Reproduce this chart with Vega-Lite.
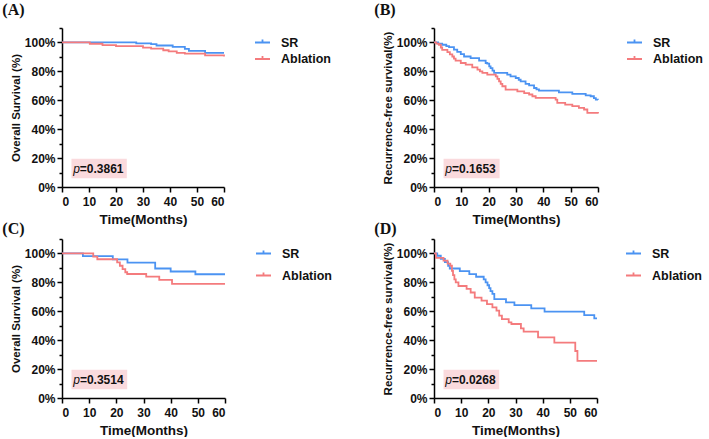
{
  "$schema": "https://vega.github.io/schema/vega-lite/v6.json",
  "padding": {"left": 2, "top": 1, "right": 0, "bottom": 0},
  "background": "white",
  "columns": 2,
  "spacing": {"row": -5, "column": 36},
  "resolve": {"scale": {"color": "independent"}},
  "config": {
    "view": {"stroke": null},
    "font": "Liberation Sans",
    "axis": {"grid": false, "domainColor": "#000", "domainWidth": 1.5, "tickColor": "#000", "tickWidth": 1.5, "labelFont": "Liberation Sans", "labelFontWeight": "bold", "labelFontSize": 12, "labelColor": "#111", "titleFont": "Liberation Sans", "titleFontWeight": "bold", "titleColor": "#111"},
    "axisX": {"titleFontSize": 13.5, "labelPadding": 4, "titlePadding": 5},
    "axisY": {"titleFontSize": 11.5, "labelPadding": 2, "titlePadding": 3},
    "legend": {"orient": "right", "offset": 20, "padding": 6, "labelFont": "Liberation Sans", "labelFontSize": 12.5, "labelFontWeight": "bold", "labelColor": "#111", "symbolType": "M-1,0H1M0,0V-0.4", "symbolSize": 225, "symbolStrokeWidth": 1.8, "labelOffset": 10, "rowPadding": 1.5},
    "title": {"font": "Liberation Serif", "fontSize": 16, "fontWeight": "bold", "color": "#111", "anchor": "start", "frame": "bounds", "dx": -8}
  },
  "datasets": {
    "km": [
      {"panel": "A", "group": "SR", "time": 0, "surv": 100},
      {"panel": "A", "group": "SR", "time": 27.5, "surv": 99.4},
      {"panel": "A", "group": "SR", "time": 33, "surv": 98.8},
      {"panel": "A", "group": "SR", "time": 35, "surv": 97.9},
      {"panel": "A", "group": "SR", "time": 41, "surv": 97},
      {"panel": "A", "group": "SR", "time": 45.5, "surv": 95.5},
      {"panel": "A", "group": "SR", "time": 47, "surv": 94.2},
      {"panel": "A", "group": "SR", "time": 53, "surv": 92.8},
      {"panel": "A", "group": "SR", "time": 60, "surv": 92.8},
      {"panel": "A", "group": "Ablation", "time": 0, "surv": 100},
      {"panel": "A", "group": "Ablation", "time": 10.3, "surv": 99.1},
      {"panel": "A", "group": "Ablation", "time": 15, "surv": 98.2},
      {"panel": "A", "group": "Ablation", "time": 20, "surv": 97.4},
      {"panel": "A", "group": "Ablation", "time": 30, "surv": 96.4},
      {"panel": "A", "group": "Ablation", "time": 33, "surv": 95.8},
      {"panel": "A", "group": "Ablation", "time": 37.5, "surv": 94.6},
      {"panel": "A", "group": "Ablation", "time": 39.5, "surv": 93.8},
      {"panel": "A", "group": "Ablation", "time": 42.5, "surv": 92.8},
      {"panel": "A", "group": "Ablation", "time": 45.5, "surv": 92.3},
      {"panel": "A", "group": "Ablation", "time": 53, "surv": 91.1},
      {"panel": "A", "group": "Ablation", "time": 60, "surv": 90.3},
      {"panel": "B", "group": "SR", "time": 0, "surv": 100},
      {"panel": "B", "group": "SR", "time": 1.5, "surv": 99.2},
      {"panel": "B", "group": "SR", "time": 3, "surv": 98.4},
      {"panel": "B", "group": "SR", "time": 4.5, "surv": 97.5},
      {"panel": "B", "group": "SR", "time": 5.5, "surv": 96.8},
      {"panel": "B", "group": "SR", "time": 7.3, "surv": 95},
      {"panel": "B", "group": "SR", "time": 8.5, "surv": 93.5},
      {"panel": "B", "group": "SR", "time": 9.8, "surv": 91.9},
      {"panel": "B", "group": "SR", "time": 11, "surv": 90.3},
      {"panel": "B", "group": "SR", "time": 13.4, "surv": 89.2},
      {"panel": "B", "group": "SR", "time": 16.5, "surv": 87.4},
      {"panel": "B", "group": "SR", "time": 18.9, "surv": 85.8},
      {"panel": "B", "group": "SR", "time": 19.5, "surv": 85.3},
      {"panel": "B", "group": "SR", "time": 20.2, "surv": 83.5},
      {"panel": "B", "group": "SR", "time": 20.7, "surv": 82.3},
      {"panel": "B", "group": "SR", "time": 21.4, "surv": 80.5},
      {"panel": "B", "group": "SR", "time": 22, "surv": 78.9},
      {"panel": "B", "group": "SR", "time": 26.8, "surv": 77.7},
      {"panel": "B", "group": "SR", "time": 28, "surv": 76.6},
      {"panel": "B", "group": "SR", "time": 29.9, "surv": 75.4},
      {"panel": "B", "group": "SR", "time": 31, "surv": 74.2},
      {"panel": "B", "group": "SR", "time": 31.7, "surv": 73.1},
      {"panel": "B", "group": "SR", "time": 33.5, "surv": 71.3},
      {"panel": "B", "group": "SR", "time": 34.8, "surv": 70.3},
      {"panel": "B", "group": "SR", "time": 36.6, "surv": 68.5},
      {"panel": "B", "group": "SR", "time": 37.5, "surv": 67.6},
      {"panel": "B", "group": "SR", "time": 38.4, "surv": 66.7},
      {"panel": "B", "group": "SR", "time": 45.7, "surv": 65.5},
      {"panel": "B", "group": "SR", "time": 50.6, "surv": 64.4},
      {"panel": "B", "group": "SR", "time": 55.5, "surv": 63.4},
      {"panel": "B", "group": "SR", "time": 57.3, "surv": 62.8},
      {"panel": "B", "group": "SR", "time": 58.5, "surv": 61.5},
      {"panel": "B", "group": "SR", "time": 59.2, "surv": 60.5},
      {"panel": "B", "group": "SR", "time": 60, "surv": 60.3},
      {"panel": "B", "group": "Ablation", "time": 0, "surv": 100},
      {"panel": "B", "group": "Ablation", "time": 0.8, "surv": 99.2},
      {"panel": "B", "group": "Ablation", "time": 1.8, "surv": 98.4},
      {"panel": "B", "group": "Ablation", "time": 2.5, "surv": 96.5},
      {"panel": "B", "group": "Ablation", "time": 3, "surv": 94.9},
      {"panel": "B", "group": "Ablation", "time": 4.9, "surv": 93.3},
      {"panel": "B", "group": "Ablation", "time": 5.8, "surv": 91.8},
      {"panel": "B", "group": "Ablation", "time": 6.7, "surv": 90.3},
      {"panel": "B", "group": "Ablation", "time": 7.3, "surv": 88.8},
      {"panel": "B", "group": "Ablation", "time": 7.9, "surv": 87.4},
      {"panel": "B", "group": "Ablation", "time": 9.8, "surv": 85.8},
      {"panel": "B", "group": "Ablation", "time": 11.6, "surv": 84.6},
      {"panel": "B", "group": "Ablation", "time": 14, "surv": 82.8},
      {"panel": "B", "group": "Ablation", "time": 15.9, "surv": 81.2},
      {"panel": "B", "group": "Ablation", "time": 16.8, "surv": 80},
      {"panel": "B", "group": "Ablation", "time": 17.7, "surv": 78.9},
      {"panel": "B", "group": "Ablation", "time": 19.5, "surv": 77.7},
      {"panel": "B", "group": "Ablation", "time": 22.6, "surv": 76.6},
      {"panel": "B", "group": "Ablation", "time": 23.2, "surv": 74.8},
      {"panel": "B", "group": "Ablation", "time": 23.8, "surv": 73.1},
      {"panel": "B", "group": "Ablation", "time": 24.4, "surv": 71.4},
      {"panel": "B", "group": "Ablation", "time": 25, "surv": 69.7},
      {"panel": "B", "group": "Ablation", "time": 26.2, "surv": 67.4},
      {"panel": "B", "group": "Ablation", "time": 30.5, "surv": 66.2},
      {"panel": "B", "group": "Ablation", "time": 33, "surv": 65},
      {"panel": "B", "group": "Ablation", "time": 34.8, "surv": 64},
      {"panel": "B", "group": "Ablation", "time": 36, "surv": 62.8},
      {"panel": "B", "group": "Ablation", "time": 37.2, "surv": 61.6},
      {"panel": "B", "group": "Ablation", "time": 44.5, "surv": 60.5},
      {"panel": "B", "group": "Ablation", "time": 45.1, "surv": 58.2},
      {"panel": "B", "group": "Ablation", "time": 48, "surv": 57},
      {"panel": "B", "group": "Ablation", "time": 50.6, "surv": 55.9},
      {"panel": "B", "group": "Ablation", "time": 53, "surv": 54.7},
      {"panel": "B", "group": "Ablation", "time": 54.9, "surv": 53.6},
      {"panel": "B", "group": "Ablation", "time": 56.1, "surv": 51.3},
      {"panel": "B", "group": "Ablation", "time": 60, "surv": 50.8},
      {"panel": "C", "group": "SR", "time": 0, "surv": 100},
      {"panel": "C", "group": "SR", "time": 7.7, "surv": 98.1},
      {"panel": "C", "group": "SR", "time": 18.7, "surv": 95.9},
      {"panel": "C", "group": "SR", "time": 24.1, "surv": 93.7},
      {"panel": "C", "group": "SR", "time": 34.3, "surv": 89.6},
      {"panel": "C", "group": "SR", "time": 40, "surv": 87.5},
      {"panel": "C", "group": "SR", "time": 49.1, "surv": 85.6},
      {"panel": "C", "group": "SR", "time": 60, "surv": 85.6},
      {"panel": "C", "group": "Ablation", "time": 0, "surv": 100},
      {"panel": "C", "group": "Ablation", "time": 11.5, "surv": 97.8},
      {"panel": "C", "group": "Ablation", "time": 13, "surv": 96},
      {"panel": "C", "group": "Ablation", "time": 20.3, "surv": 93.8},
      {"panel": "C", "group": "Ablation", "time": 21.3, "surv": 91.5},
      {"panel": "C", "group": "Ablation", "time": 22.3, "surv": 89.2},
      {"panel": "C", "group": "Ablation", "time": 23.3, "surv": 87},
      {"panel": "C", "group": "Ablation", "time": 24, "surv": 85.8},
      {"panel": "C", "group": "Ablation", "time": 31, "surv": 84},
      {"panel": "C", "group": "Ablation", "time": 35.8, "surv": 81.7},
      {"panel": "C", "group": "Ablation", "time": 40.5, "surv": 79},
      {"panel": "C", "group": "Ablation", "time": 60, "surv": 79},
      {"panel": "D", "group": "SR", "time": 0, "surv": 100},
      {"panel": "D", "group": "SR", "time": 1.2, "surv": 98.4},
      {"panel": "D", "group": "SR", "time": 2.5, "surv": 96.2},
      {"panel": "D", "group": "SR", "time": 4, "surv": 94},
      {"panel": "D", "group": "SR", "time": 5.2, "surv": 91.5},
      {"panel": "D", "group": "SR", "time": 5.8, "surv": 89.6},
      {"panel": "D", "group": "SR", "time": 9.5, "surv": 87.8},
      {"panel": "D", "group": "SR", "time": 13, "surv": 85.7},
      {"panel": "D", "group": "SR", "time": 15.5, "surv": 83.9},
      {"panel": "D", "group": "SR", "time": 18.3, "surv": 82},
      {"panel": "D", "group": "SR", "time": 19, "surv": 80},
      {"panel": "D", "group": "SR", "time": 19.7, "surv": 78},
      {"panel": "D", "group": "SR", "time": 20.3, "surv": 76},
      {"panel": "D", "group": "SR", "time": 20.8, "surv": 74},
      {"panel": "D", "group": "SR", "time": 21.5, "surv": 72},
      {"panel": "D", "group": "SR", "time": 22.2, "surv": 68.4},
      {"panel": "D", "group": "SR", "time": 26.5, "surv": 66.2},
      {"panel": "D", "group": "SR", "time": 29.6, "surv": 64.3},
      {"panel": "D", "group": "SR", "time": 35.8, "surv": 62},
      {"panel": "D", "group": "SR", "time": 40.7, "surv": 59.7},
      {"panel": "D", "group": "SR", "time": 55.3, "surv": 57.4},
      {"panel": "D", "group": "SR", "time": 59, "surv": 55.1},
      {"panel": "D", "group": "SR", "time": 60, "surv": 55.1},
      {"panel": "D", "group": "Ablation", "time": 0, "surv": 100},
      {"panel": "D", "group": "Ablation", "time": 0.7, "surv": 97},
      {"panel": "D", "group": "Ablation", "time": 3.5, "surv": 95},
      {"panel": "D", "group": "Ablation", "time": 5, "surv": 93},
      {"panel": "D", "group": "Ablation", "time": 6, "surv": 91.5},
      {"panel": "D", "group": "Ablation", "time": 6.6, "surv": 88},
      {"panel": "D", "group": "Ablation", "time": 7, "surv": 85},
      {"panel": "D", "group": "Ablation", "time": 7.5, "surv": 82},
      {"panel": "D", "group": "Ablation", "time": 8, "surv": 80},
      {"panel": "D", "group": "Ablation", "time": 9, "surv": 77.5},
      {"panel": "D", "group": "Ablation", "time": 12, "surv": 75.5},
      {"panel": "D", "group": "Ablation", "time": 13.5, "surv": 73},
      {"panel": "D", "group": "Ablation", "time": 15, "surv": 69.5},
      {"panel": "D", "group": "Ablation", "time": 17.5, "surv": 67.3},
      {"panel": "D", "group": "Ablation", "time": 19.5, "surv": 65},
      {"panel": "D", "group": "Ablation", "time": 21.5, "surv": 62.7},
      {"panel": "D", "group": "Ablation", "time": 23, "surv": 60.4},
      {"panel": "D", "group": "Ablation", "time": 24, "surv": 57},
      {"panel": "D", "group": "Ablation", "time": 25, "surv": 54.6},
      {"panel": "D", "group": "Ablation", "time": 27.5, "surv": 52.3},
      {"panel": "D", "group": "Ablation", "time": 28.5, "surv": 51.2},
      {"panel": "D", "group": "Ablation", "time": 32, "surv": 48.2},
      {"panel": "D", "group": "Ablation", "time": 33, "surv": 45.9},
      {"panel": "D", "group": "Ablation", "time": 38.3, "surv": 42},
      {"panel": "D", "group": "Ablation", "time": 44.3, "surv": 38.3},
      {"panel": "D", "group": "Ablation", "time": 52, "surv": 32.5},
      {"panel": "D", "group": "Ablation", "time": 52.8, "surv": 25.7},
      {"panel": "D", "group": "Ablation", "time": 60, "surv": 25.7}
    ]
  },
  "concat": [
    {
      "width": 162, "height": 159,
      "title": {"text": "(A)", "offset": 4.5},
      "layer": [
        {
          "data": {"values": [{"pval": "=0.3861"}]},
          "mark": {"type": "rect", "fill": "#fadadd"},
          "encoding": {
            "x": {"datum": 3.5, "type": "quantitative", "title": "Time(Months)", "scale": {"domain": [0, 60], "nice": false}, "axis": {"values": [0, 10, 20, 30, 40, 50, 60], "tickSize": 5, "labelOverlap": false}},
            "x2": {"datum": 24},
            "y": {"datum": 6, "type": "quantitative", "title": "Overall Survival (%)", "scale": {"domain": [0, 110], "nice": false}, "axis": {"values": [0, 10, 20, 30, 40, 50, 60, 70, 80, 90, 100, 110], "labelOverlap": false, "labelExpr": "datum.value % 20 === 0 && datum.value <= 100 ? datum.value + '%' : ''", "tickSize": {"condition": {"test": "datum.value % 20 === 0 && datum.value <= 100", "value": 5}, "value": 3}}},
            "y2": {"datum": 19.5}
          }
        },
        {
          "data": {"values": [{"pval": "=0.3861"}]},
          "mark": {"type": "text", "text": "p", "align": "right", "baseline": "middle", "fontStyle": "italic", "fontSize": 12, "color": "#111", "font": "Liberation Sans"},
          "encoding": {
            "x": {"datum": 6.6, "type": "quantitative", "title": "Time(Months)", "scale": {"domain": [0, 60], "nice": false}, "axis": {"values": [0, 10, 20, 30, 40, 50, 60], "tickSize": 5, "labelOverlap": false}},
            "y": {"datum": 12.6, "type": "quantitative", "title": "Overall Survival (%)", "scale": {"domain": [0, 110], "nice": false}, "axis": {"values": [0, 10, 20, 30, 40, 50, 60, 70, 80, 90, 100, 110], "labelOverlap": false, "labelExpr": "datum.value % 20 === 0 && datum.value <= 100 ? datum.value + '%' : ''", "tickSize": {"condition": {"test": "datum.value % 20 === 0 && datum.value <= 100", "value": 5}, "value": 3}}}
          }
        },
        {
          "data": {"values": [{"pval": "=0.3861"}]},
          "mark": {"type": "text", "align": "left", "baseline": "middle", "fontWeight": "bold", "fontSize": 12, "color": "#111", "font": "Liberation Sans"},
          "encoding": {
            "x": {"datum": 6.6, "type": "quantitative", "title": "Time(Months)", "scale": {"domain": [0, 60], "nice": false}, "axis": {"values": [0, 10, 20, 30, 40, 50, 60], "tickSize": 5, "labelOverlap": false}},
            "y": {"datum": 12.6, "type": "quantitative", "title": "Overall Survival (%)", "scale": {"domain": [0, 110], "nice": false}, "axis": {"values": [0, 10, 20, 30, 40, 50, 60, 70, 80, 90, 100, 110], "labelOverlap": false, "labelExpr": "datum.value % 20 === 0 && datum.value <= 100 ? datum.value + '%' : ''", "tickSize": {"condition": {"test": "datum.value % 20 === 0 && datum.value <= 100", "value": 5}, "value": 3}}},
            "text": {"field": "pval"}
          }
        },
        {
          "data": {"name": "km"},
          "transform": [{"filter": "datum.panel === 'A'"}],
          "mark": {"type": "line", "interpolate": "step-after", "strokeWidth": 1.8},
          "encoding": {
            "x": {"field": "time", "type": "quantitative", "title": "Time(Months)", "scale": {"domain": [0, 60], "nice": false}, "axis": {"values": [0, 10, 20, 30, 40, 50, 60], "tickSize": 5, "labelOverlap": false}},
            "y": {"field": "surv", "type": "quantitative", "title": "Overall Survival (%)", "scale": {"domain": [0, 110], "nice": false}, "axis": {"values": [0, 10, 20, 30, 40, 50, 60, 70, 80, 90, 100, 110], "labelOverlap": false, "labelExpr": "datum.value % 20 === 0 && datum.value <= 100 ? datum.value + '%' : ''", "tickSize": {"condition": {"test": "datum.value % 20 === 0 && datum.value <= 100", "value": 5}, "value": 3}}},
            "color": {"field": "group", "type": "nominal", "scale": {"domain": ["SR", "Ablation"], "range": ["#4b93f2", "#f47b7d"]}, "legend": {"title": null}}
          }
        }
      ]
    },
    {
      "width": 164, "height": 159,
      "title": {"text": "(B)", "offset": 4.5},
      "layer": [
        {
          "data": {"values": [{"pval": "=0.1653"}]},
          "mark": {"type": "rect", "fill": "#fadadd"},
          "encoding": {
            "x": {"datum": 3.5, "type": "quantitative", "title": "Time(Months)", "scale": {"domain": [0, 60], "nice": false}, "axis": {"values": [0, 10, 20, 30, 40, 50, 60], "tickSize": 5, "labelOverlap": false}},
            "x2": {"datum": 24},
            "y": {"datum": 6, "type": "quantitative", "title": "Recurrence-free survival(%)", "scale": {"domain": [0, 110], "nice": false}, "axis": {"values": [0, 10, 20, 30, 40, 50, 60, 70, 80, 90, 100, 110], "labelOverlap": false, "labelExpr": "datum.value % 20 === 0 && datum.value <= 100 ? datum.value + '%' : ''", "tickSize": {"condition": {"test": "datum.value % 20 === 0 && datum.value <= 100", "value": 5}, "value": 3}}},
            "y2": {"datum": 19.5}
          }
        },
        {
          "data": {"values": [{"pval": "=0.1653"}]},
          "mark": {"type": "text", "text": "p", "align": "right", "baseline": "middle", "fontStyle": "italic", "fontSize": 12, "color": "#111", "font": "Liberation Sans"},
          "encoding": {
            "x": {"datum": 6.6, "type": "quantitative", "title": "Time(Months)", "scale": {"domain": [0, 60], "nice": false}, "axis": {"values": [0, 10, 20, 30, 40, 50, 60], "tickSize": 5, "labelOverlap": false}},
            "y": {"datum": 12.6, "type": "quantitative", "title": "Recurrence-free survival(%)", "scale": {"domain": [0, 110], "nice": false}, "axis": {"values": [0, 10, 20, 30, 40, 50, 60, 70, 80, 90, 100, 110], "labelOverlap": false, "labelExpr": "datum.value % 20 === 0 && datum.value <= 100 ? datum.value + '%' : ''", "tickSize": {"condition": {"test": "datum.value % 20 === 0 && datum.value <= 100", "value": 5}, "value": 3}}}
          }
        },
        {
          "data": {"values": [{"pval": "=0.1653"}]},
          "mark": {"type": "text", "align": "left", "baseline": "middle", "fontWeight": "bold", "fontSize": 12, "color": "#111", "font": "Liberation Sans"},
          "encoding": {
            "x": {"datum": 6.6, "type": "quantitative", "title": "Time(Months)", "scale": {"domain": [0, 60], "nice": false}, "axis": {"values": [0, 10, 20, 30, 40, 50, 60], "tickSize": 5, "labelOverlap": false}},
            "y": {"datum": 12.6, "type": "quantitative", "title": "Recurrence-free survival(%)", "scale": {"domain": [0, 110], "nice": false}, "axis": {"values": [0, 10, 20, 30, 40, 50, 60, 70, 80, 90, 100, 110], "labelOverlap": false, "labelExpr": "datum.value % 20 === 0 && datum.value <= 100 ? datum.value + '%' : ''", "tickSize": {"condition": {"test": "datum.value % 20 === 0 && datum.value <= 100", "value": 5}, "value": 3}}},
            "text": {"field": "pval"}
          }
        },
        {
          "data": {"name": "km"},
          "transform": [{"filter": "datum.panel === 'B'"}],
          "mark": {"type": "line", "interpolate": "step-after", "strokeWidth": 1.8},
          "encoding": {
            "x": {"field": "time", "type": "quantitative", "title": "Time(Months)", "scale": {"domain": [0, 60], "nice": false}, "axis": {"values": [0, 10, 20, 30, 40, 50, 60], "tickSize": 5, "labelOverlap": false}},
            "y": {"field": "surv", "type": "quantitative", "title": "Recurrence-free survival(%)", "scale": {"domain": [0, 110], "nice": false}, "axis": {"values": [0, 10, 20, 30, 40, 50, 60, 70, 80, 90, 100, 110], "labelOverlap": false, "labelExpr": "datum.value % 20 === 0 && datum.value <= 100 ? datum.value + '%' : ''", "tickSize": {"condition": {"test": "datum.value % 20 === 0 && datum.value <= 100", "value": 5}, "value": 3}}},
            "color": {"field": "group", "type": "nominal", "scale": {"domain": ["SR", "Ablation"], "range": ["#4b93f2", "#f47b7d"]}, "legend": {"title": null, "offset": 18}}
          }
        }
      ]
    },
    {
      "width": 163, "height": 159,
      "title": {"text": "(C)", "offset": -4},
      "layer": [
        {
          "data": {"values": [{"pval": "=0.3514"}]},
          "mark": {"type": "rect", "fill": "#fadadd"},
          "encoding": {
            "x": {"datum": 3.5, "type": "quantitative", "title": "Time(Months)", "scale": {"domain": [0, 60], "nice": false}, "axis": {"values": [0, 10, 20, 30, 40, 50, 60], "tickSize": 5, "labelOverlap": false}},
            "x2": {"datum": 24},
            "y": {"datum": 6, "type": "quantitative", "title": "Overall Survival (%)", "scale": {"domain": [0, 110], "nice": false}, "axis": {"values": [0, 10, 20, 30, 40, 50, 60, 70, 80, 90, 100, 110], "labelOverlap": false, "labelExpr": "datum.value % 20 === 0 && datum.value <= 100 ? datum.value + '%' : ''", "tickSize": {"condition": {"test": "datum.value % 20 === 0 && datum.value <= 100", "value": 5}, "value": 3}}},
            "y2": {"datum": 19.5}
          }
        },
        {
          "data": {"values": [{"pval": "=0.3514"}]},
          "mark": {"type": "text", "text": "p", "align": "right", "baseline": "middle", "fontStyle": "italic", "fontSize": 12, "color": "#111", "font": "Liberation Sans"},
          "encoding": {
            "x": {"datum": 6.6, "type": "quantitative", "title": "Time(Months)", "scale": {"domain": [0, 60], "nice": false}, "axis": {"values": [0, 10, 20, 30, 40, 50, 60], "tickSize": 5, "labelOverlap": false}},
            "y": {"datum": 12.6, "type": "quantitative", "title": "Overall Survival (%)", "scale": {"domain": [0, 110], "nice": false}, "axis": {"values": [0, 10, 20, 30, 40, 50, 60, 70, 80, 90, 100, 110], "labelOverlap": false, "labelExpr": "datum.value % 20 === 0 && datum.value <= 100 ? datum.value + '%' : ''", "tickSize": {"condition": {"test": "datum.value % 20 === 0 && datum.value <= 100", "value": 5}, "value": 3}}}
          }
        },
        {
          "data": {"values": [{"pval": "=0.3514"}]},
          "mark": {"type": "text", "align": "left", "baseline": "middle", "fontWeight": "bold", "fontSize": 12, "color": "#111", "font": "Liberation Sans"},
          "encoding": {
            "x": {"datum": 6.6, "type": "quantitative", "title": "Time(Months)", "scale": {"domain": [0, 60], "nice": false}, "axis": {"values": [0, 10, 20, 30, 40, 50, 60], "tickSize": 5, "labelOverlap": false}},
            "y": {"datum": 12.6, "type": "quantitative", "title": "Overall Survival (%)", "scale": {"domain": [0, 110], "nice": false}, "axis": {"values": [0, 10, 20, 30, 40, 50, 60, 70, 80, 90, 100, 110], "labelOverlap": false, "labelExpr": "datum.value % 20 === 0 && datum.value <= 100 ? datum.value + '%' : ''", "tickSize": {"condition": {"test": "datum.value % 20 === 0 && datum.value <= 100", "value": 5}, "value": 3}}},
            "text": {"field": "pval"}
          }
        },
        {
          "data": {"name": "km"},
          "transform": [{"filter": "datum.panel === 'C'"}],
          "mark": {"type": "line", "interpolate": "step-after", "strokeWidth": 1.8},
          "encoding": {
            "x": {"field": "time", "type": "quantitative", "title": "Time(Months)", "scale": {"domain": [0, 60], "nice": false}, "axis": {"values": [0, 10, 20, 30, 40, 50, 60], "tickSize": 5, "labelOverlap": false}},
            "y": {"field": "surv", "type": "quantitative", "title": "Overall Survival (%)", "scale": {"domain": [0, 110], "nice": false}, "axis": {"values": [0, 10, 20, 30, 40, 50, 60, 70, 80, 90, 100, 110], "labelOverlap": false, "labelExpr": "datum.value % 20 === 0 && datum.value <= 100 ? datum.value + '%' : ''", "tickSize": {"condition": {"test": "datum.value % 20 === 0 && datum.value <= 100", "value": 5}, "value": 3}}},
            "color": {"field": "group", "type": "nominal", "scale": {"domain": ["SR", "Ablation"], "range": ["#4b93f2", "#f47b7d"]}, "legend": {"title": null, "rowPadding": 7}}
          }
        }
      ]
    },
    {
      "width": 163, "height": 159,
      "title": {"text": "(D)", "offset": -4},
      "layer": [
        {
          "data": {"values": [{"pval": "=0.0268"}]},
          "mark": {"type": "rect", "fill": "#fadadd"},
          "encoding": {
            "x": {"datum": 3.5, "type": "quantitative", "title": "Time(Months)", "scale": {"domain": [0, 60], "nice": false}, "axis": {"values": [0, 10, 20, 30, 40, 50, 60], "tickSize": 5, "labelOverlap": false}},
            "x2": {"datum": 24},
            "y": {"datum": 6, "type": "quantitative", "title": "Recurrence-free survival(%)", "scale": {"domain": [0, 110], "nice": false}, "axis": {"values": [0, 10, 20, 30, 40, 50, 60, 70, 80, 90, 100, 110], "labelOverlap": false, "labelExpr": "datum.value % 20 === 0 && datum.value <= 100 ? datum.value + '%' : ''", "tickSize": {"condition": {"test": "datum.value % 20 === 0 && datum.value <= 100", "value": 5}, "value": 3}}},
            "y2": {"datum": 19.5}
          }
        },
        {
          "data": {"values": [{"pval": "=0.0268"}]},
          "mark": {"type": "text", "text": "p", "align": "right", "baseline": "middle", "fontStyle": "italic", "fontSize": 12, "color": "#111", "font": "Liberation Sans"},
          "encoding": {
            "x": {"datum": 6.6, "type": "quantitative", "title": "Time(Months)", "scale": {"domain": [0, 60], "nice": false}, "axis": {"values": [0, 10, 20, 30, 40, 50, 60], "tickSize": 5, "labelOverlap": false}},
            "y": {"datum": 12.6, "type": "quantitative", "title": "Recurrence-free survival(%)", "scale": {"domain": [0, 110], "nice": false}, "axis": {"values": [0, 10, 20, 30, 40, 50, 60, 70, 80, 90, 100, 110], "labelOverlap": false, "labelExpr": "datum.value % 20 === 0 && datum.value <= 100 ? datum.value + '%' : ''", "tickSize": {"condition": {"test": "datum.value % 20 === 0 && datum.value <= 100", "value": 5}, "value": 3}}}
          }
        },
        {
          "data": {"values": [{"pval": "=0.0268"}]},
          "mark": {"type": "text", "align": "left", "baseline": "middle", "fontWeight": "bold", "fontSize": 12, "color": "#111", "font": "Liberation Sans"},
          "encoding": {
            "x": {"datum": 6.6, "type": "quantitative", "title": "Time(Months)", "scale": {"domain": [0, 60], "nice": false}, "axis": {"values": [0, 10, 20, 30, 40, 50, 60], "tickSize": 5, "labelOverlap": false}},
            "y": {"datum": 12.6, "type": "quantitative", "title": "Recurrence-free survival(%)", "scale": {"domain": [0, 110], "nice": false}, "axis": {"values": [0, 10, 20, 30, 40, 50, 60, 70, 80, 90, 100, 110], "labelOverlap": false, "labelExpr": "datum.value % 20 === 0 && datum.value <= 100 ? datum.value + '%' : ''", "tickSize": {"condition": {"test": "datum.value % 20 === 0 && datum.value <= 100", "value": 5}, "value": 3}}},
            "text": {"field": "pval"}
          }
        },
        {
          "data": {"name": "km"},
          "transform": [{"filter": "datum.panel === 'D'"}],
          "mark": {"type": "line", "interpolate": "step-after", "strokeWidth": 1.8},
          "encoding": {
            "x": {"field": "time", "type": "quantitative", "title": "Time(Months)", "scale": {"domain": [0, 60], "nice": false}, "axis": {"values": [0, 10, 20, 30, 40, 50, 60], "tickSize": 5, "labelOverlap": false}},
            "y": {"field": "surv", "type": "quantitative", "title": "Recurrence-free survival(%)", "scale": {"domain": [0, 110], "nice": false}, "axis": {"values": [0, 10, 20, 30, 40, 50, 60, 70, 80, 90, 100, 110], "labelOverlap": false, "labelExpr": "datum.value % 20 === 0 && datum.value <= 100 ? datum.value + '%' : ''", "tickSize": {"condition": {"test": "datum.value % 20 === 0 && datum.value <= 100", "value": 5}, "value": 3}}},
            "color": {"field": "group", "type": "nominal", "scale": {"domain": ["SR", "Ablation"], "range": ["#4b93f2", "#f47b7d"]}, "legend": {"title": null, "rowPadding": 7, "offset": 18}}
          }
        }
      ]
    }
  ]
}
